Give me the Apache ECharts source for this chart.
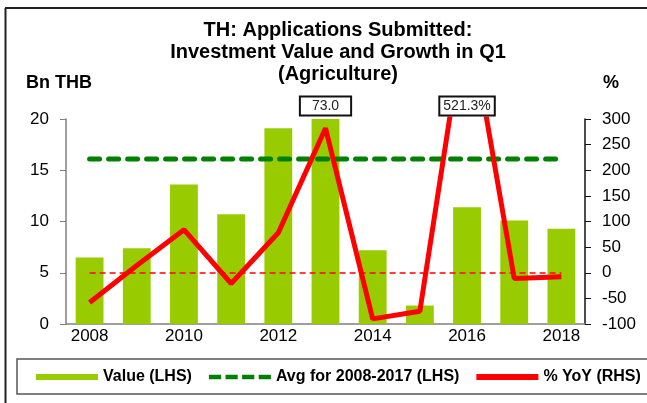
<!DOCTYPE html>
<html>
<head>
<meta charset="utf-8">
<script src="https://cdn.jsdelivr.net/npm/echarts@6/dist/echarts.min.js"></script>
<style>
  html, body { margin: 0; padding: 0; background: #fff; }
  #chart { width: 647px; height: 403px; }
</style>
</head>
<body>
<div id="chart"></div>
<script>
const years = ['2008', '2009', '2010', '2011', '2012', '2013', '2014', '2015', '2016', '2017', '2018']
const valueBn = [6.5, 7.4, 13.6, 10.7, 19.1, 73.0, 7.2, 1.8, 11.4, 10.1, 9.3]
const yoyPct = [-58, 14, 84, -21, 78, 282, -90, -75, 521.3, -11, -8]
const avgValue = 16.1
const avgLine = years.map(() => avgValue)

const font = 'Arial, "Liberation Sans", sans-serif'
// four short bars for the dashed legend key
const dashIcon = 'path://M0,0h13v5h-13z M17.7,0h13v5h-13z M35.4,0h13v5h-13z M53.1,0h13v5h-13z'
const chart = echarts.init(document.getElementById('chart'))

chart.setOption({
  animation: false,
  backgroundColor: '#fff',
  graphic: [
    { type: 'line', shape: { x1: 5.5, y1: 8, x2: 5.5, y2: 403 }, style: { stroke: '#222', lineWidth: 2 } },
    { type: 'line', shape: { x1: 5, y1: 8, x2: 647, y2: 8 }, style: { stroke: '#222', lineWidth: 2 } },
    { type: 'rect', shape: { x: 17, y: 359, width: 640, height: 35 }, style: { fill: 'none', stroke: '#555', lineWidth: 1.5 } },
    {
      type: 'text', x: 338, y: 19,
      style: {
        text: 'TH: Applications Submitted:\nInvestment Value and Growth in Q1\n(Agriculture)',
        align: 'center', verticalAlign: 'top', lineHeight: 22,
        font: 'bold 20px ' + font, fill: '#000'
      }
    },
    { type: 'text', x: 26, y: 83, style: { text: 'Bn THB', verticalAlign: 'middle', font: 'bold 18px ' + font, fill: '#000' } },
    { type: 'text', x: 603, y: 83, style: { text: '%', verticalAlign: 'middle', font: 'bold 18px ' + font, fill: '#000' } }
  ],
  legend: {
    left: 36,
    top: 369,
    padding: 0,
    itemWidth: 62,
    itemHeight: 6,
    itemGap: 17,
    textStyle: { fontFamily: font, fontSize: 16, fontWeight: 'bold', color: '#000' },
    data: [
      { name: 'Value (LHS)', icon: 'rect' },
      { name: 'Avg for 2008-2017 (LHS)', icon: dashIcon },
      { name: '% YoY (RHS)', icon: 'rect' }
    ]
  },
  grid: { left: 66, right: 62, top: 119, bottom: 79 },
  xAxis: {
    type: 'category',
    data: years,
    boundaryGap: true,
    axisLine: { lineStyle: { color: '#808080', width: 1.5 } },
    axisTick: { interval: 0, length: 5, lineStyle: { color: '#555' } },
    axisLabel: { interval: 1, margin: 4, color: '#000', fontSize: 17, fontFamily: font }
  },
  yAxis: [
    {
      type: 'value', min: 0, max: 20, interval: 5,
      splitLine: { show: false },
      axisLine: { show: true, lineStyle: { color: '#808080', width: 1.5 } },
      axisTick: { show: true, length: 6, lineStyle: { color: '#808080' } },
      axisLabel: { margin: 17, color: '#000', fontSize: 17, fontFamily: font }
    },
    {
      type: 'value', min: -100, max: 300, interval: 50,
      splitLine: { show: false },
      axisLine: { show: true, lineStyle: { color: '#111', width: 1.5 } },
      axisTick: { show: true, length: 6, lineStyle: { color: '#111' } },
      axisLabel: { margin: 17, color: '#000', fontSize: 17, fontFamily: font }
    }
  ],
  series: [
    {
      name: 'Value (LHS)',
      type: 'bar',
      data: valueBn,
      barWidth: '59%',
      itemStyle: { color: '#99CC00' },
      markPoint: {
        symbol: 'rect',
        symbolSize: 1,
        itemStyle: { color: 'rgba(0,0,0,0)' },
        data: [{ coord: ['2013', 20], value: valueBn[5] }],
        label: {
          show: true, position: 'top', distance: 4,
          formatter: (p) => p.value.toFixed(1),
          fontFamily: font, fontSize: 14, color: '#222',
          backgroundColor: '#fff', borderColor: '#111', borderWidth: 2,
          padding: [2, 11, 1, 11]
        }
      }
    },
    {
      name: 'Avg for 2008-2017 (LHS)',
      type: 'line',
      data: avgLine,
      symbol: 'none',
      lineStyle: { color: '#008000', width: 5, type: [10, 9], cap: 'round' },
      itemStyle: { color: '#008000' }
    },
    {
      name: '% YoY (RHS)',
      type: 'line',
      yAxisIndex: 1,
      data: yoyPct,
      symbol: 'none',
      z: 4,
      lineStyle: { color: '#FF0000', width: 5 },
      itemStyle: { color: '#FF0000' },
      markLine: {
        silent: true,
        symbol: 'none',
        label: { show: false },
        lineStyle: { color: '#FF0000', width: 1.5, type: [6, 4] },
        data: [[{ coord: ['2008', 0] }, { coord: ['2018', 0] }]]
      },
      markPoint: {
        symbol: 'rect',
        symbolSize: 1,
        itemStyle: { color: 'rgba(0,0,0,0)' },
        data: [{ coord: ['2016', 300], value: yoyPct[8] }],
        label: {
          show: true, position: 'top', distance: 4,
          formatter: (p) => p.value.toFixed(1) + '%',
          fontFamily: font, fontSize: 14, color: '#222',
          backgroundColor: '#fff', borderColor: '#111', borderWidth: 2,
          padding: [2, 3, 1, 3]
        }
      }
    }
  ]
})
</script>
</body>
</html>
